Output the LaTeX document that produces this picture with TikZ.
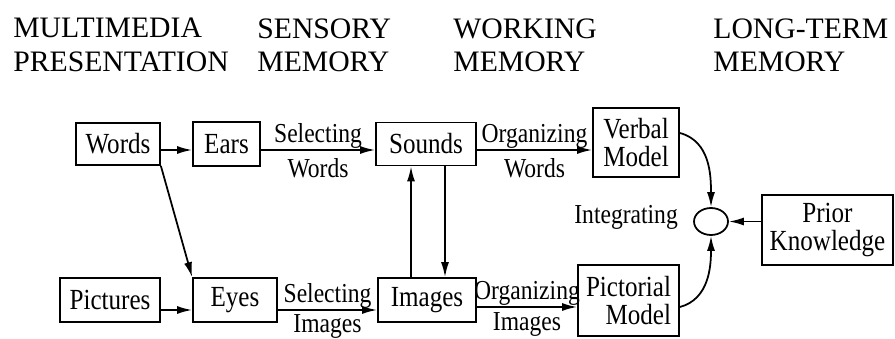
\documentclass[tikz,border=0pt]{standalone}
\usepackage{fontspec}
\setmainfont{Liberation Serif}
\newfontfamily\narrowfont[FakeStretch=0.86]{Liberation Serif}
\usetikzlibrary{arrows.meta,shapes.geometric}

\begin{document}
\begin{tikzpicture}[x=0.02cm, y=-0.02cm,
	box/.style={draw, line width=1pt, inner sep=1pt, font=\narrowfont\fontsize{16.6}{15.5}\selectfont},
	head/.style={anchor=north west, inner sep=0pt, align=left, font=\fontsize{16.9}{19.3}\selectfont},
	lbl/.style={inner sep=0.5pt, font=\narrowfont\fontsize{15.6}{16}\selectfont},
	arr/.style={line width=1pt, -{Latex[length=0.3cm, width=0.16cm]}}]
		\useasboundingbox (0,0) rectangle (895,338);
		
		%column headings
		\node[head] (hpres) at (13,18) {MULTIMEDIA\\PRESENTATION};
		\node[head] (hsens) at (257,18) {SENSORY\\MEMORY};
		\node[head] (hwork) at (453,18) {WORKING\\MEMORY};
		\node[head] (hlong) at (713,18) {LONG-TERM\\MEMORY};
		
		%boxes
		\node[box, minimum width=1.68cm, minimum height=0.84cm] (words) at (118,144) {Words};
		\node[box, minimum width=1.34cm, minimum height=0.88cm] (ears) at (226.5,144) {Ears};
		\node[box, minimum width=2.0cm, minimum height=0.86cm] (sounds) at (426,144) {Sounds};
		\node[box, minimum width=1.72cm, minimum height=1.38cm, align=center] (verbal) at (636,142.5) {Verbal\\Model};
		\node[box, minimum width=2.0cm, minimum height=0.88cm] (pictures) at (110,300) {Pictures};
		\node[box, minimum width=1.68cm, minimum height=0.88cm] (eyes) at (235,300) {Eyes};
		\node[box, minimum width=1.96cm, minimum height=0.88cm] (images) at (427,300) {Images};
		\node[box, minimum width=2.02cm, minimum height=1.42cm, align=right] (pictorial) at (628.5,300.5) {Pictorial\\Model};
		\node[box, minimum width=2.62cm, minimum height=1.40cm, align=center] (prior) at (827.5,230) {Prior\\Knowledge};
		
		%integrating
		\node[draw, ellipse, line width=1pt, inner sep=0pt, minimum width=0.68cm, minimum height=0.54cm] (integ) at (711,221.5) {};
		\node[lbl, anchor=base east] (tinteg) at (679,223) {Integrating};
		
		%verbal channel
		\draw[arr] ([yshift=-0.12cm]words.east) -- ([yshift=-0.12cm]ears.west);
		\draw[arr] ([yshift=-0.12cm]ears.east) -- ([yshift=-0.12cm]sounds.west)
			node[lbl, midway, above] {Selecting} node[lbl, midway, below=4pt] {Words};
		\draw[arr] ([yshift=-0.12cm]sounds.east) -- ([yshift=-0.12cm]sounds.east -| verbal.west)
			node[lbl, midway, above] {Organizing} node[lbl, midway, below=4pt] {Words};
		
		%pictorial channel
		\draw[arr] ([yshift=-0.2cm]pictures.east) -- ([yshift=-0.2cm]eyes.west);
		\draw[arr] ([yshift=-0.2cm]eyes.east) -- ([yshift=-0.2cm]images.west)
			node[lbl, midway, above] {Selecting} node[lbl, midway, below=1.5pt] {Images};
		\draw[arr] ([yshift=-0.14cm]images.east) -- ([yshift=-0.14cm]images.east -| pictorial.west)
			node[lbl, midway, above] {Organizing} node[lbl, midway, below=2pt] {Images};
		
		%cross links
		\draw[arr] (words.south east) -- (eyes.north west);
		\draw[arr] ([xshift=-0.32cm]images.north) -- ([xshift=-0.32cm]images.north |- sounds.south);
		\draw[arr] ([xshift=0.38cm]sounds.south) -- ([xshift=0.38cm]sounds.south |- images.north);
		
		%into integrating
		\draw[arr] ([yshift=0.19cm]verbal.east) to[out=-15, in=90] (integ.north);
		\draw[arr] ([yshift=-0.13cm]pictorial.east) to[out=15, in=-90] (integ.south);
		\draw[arr] (prior.west |- integ.east) -- (integ.east);
	
	\end{tikzpicture}
\end{document}
